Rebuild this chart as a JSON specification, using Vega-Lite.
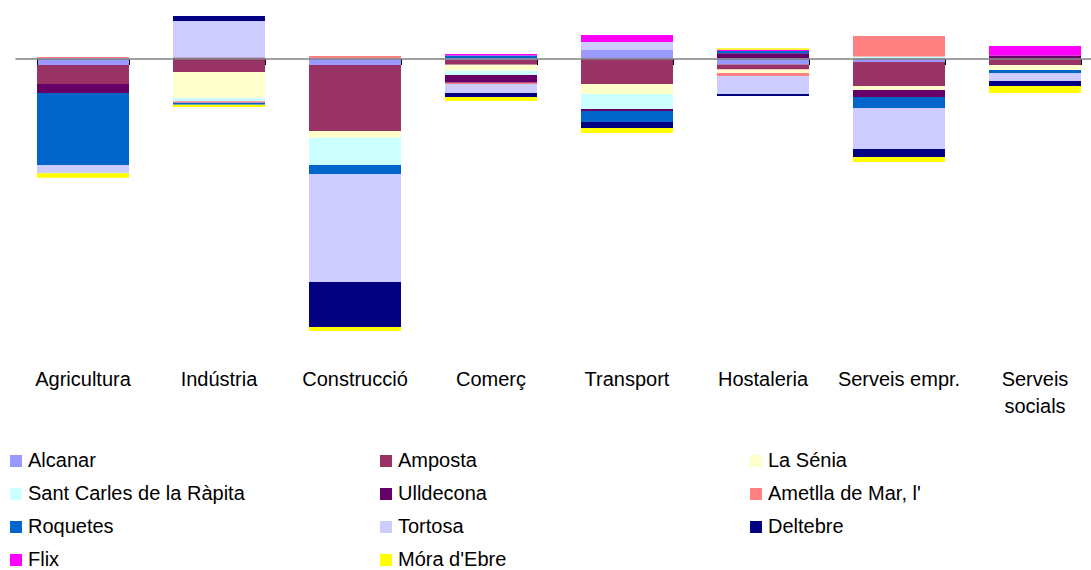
{
  "$schema": "https://vega.github.io/schema/vega-lite/v6.json",
  "width": 1076,
  "height": 355,
  "autosize": {"type": "none"},
  "padding": {"left": 15, "top": 10, "right": 0, "bottom": 205},
  "config": {
    "view": {"stroke": null},
    "font": "Liberation Sans"
  },
  "data": {
    "values": [
      {"cat": "Agricultura", "mun": "Ametlla de Mar, l'", "k": 5, "v": 1.5},
      {"cat": "Agricultura", "mun": "Alcanar", "k": 0, "v": -6.5},
      {"cat": "Agricultura", "mun": "Amposta", "k": 1, "v": -19},
      {"cat": "Agricultura", "mun": "Ulldecona", "k": 4, "v": -9},
      {"cat": "Agricultura", "mun": "Roquetes", "k": 6, "v": -72},
      {"cat": "Agricultura", "mun": "Tortosa", "k": 7, "v": -8.3},
      {"cat": "Agricultura", "mun": "Móra d'Ebre", "k": 10, "v": -4.4},

      {"cat": "Indústria", "mun": "Ulldecona", "k": 4, "v": 1},
      {"cat": "Indústria", "mun": "Tortosa", "k": 7, "v": 36.5},
      {"cat": "Indústria", "mun": "Deltebre", "k": 8, "v": 5},
      {"cat": "Indústria", "mun": "Amposta", "k": 1, "v": -13.5},
      {"cat": "Indústria", "mun": "La Sénia", "k": 2, "v": -25.7},
      {"cat": "Indústria", "mun": "Sant Carles de la Ràpita", "k": 3, "v": -3.6},
      {"cat": "Indústria", "mun": "Ametlla de Mar, l'", "k": 5, "v": -1.4},
      {"cat": "Indústria", "mun": "Roquetes", "k": 6, "v": -2},
      {"cat": "Indústria", "mun": "Móra d'Ebre", "k": 10, "v": -2.3},

      {"cat": "Construcció", "mun": "Ametlla de Mar, l'", "k": 5, "v": 2.5},
      {"cat": "Construcció", "mun": "Alcanar", "k": 0, "v": -6.5},
      {"cat": "Construcció", "mun": "Amposta", "k": 1, "v": -66},
      {"cat": "Construcció", "mun": "La Sénia", "k": 2, "v": -6.7},
      {"cat": "Construcció", "mun": "Sant Carles de la Ràpita", "k": 3, "v": -27.3},
      {"cat": "Construcció", "mun": "Roquetes", "k": 6, "v": -9},
      {"cat": "Construcció", "mun": "Tortosa", "k": 7, "v": -108},
      {"cat": "Construcció", "mun": "Deltebre", "k": 8, "v": -45},
      {"cat": "Construcció", "mun": "Móra d'Ebre", "k": 10, "v": -4},

      {"cat": "Comerç", "mun": "Roquetes", "k": 6, "v": 3},
      {"cat": "Comerç", "mun": "Flix", "k": 9, "v": 1.5},
      {"cat": "Comerç", "mun": "Alcanar", "k": 0, "v": -1.5},
      {"cat": "Comerç", "mun": "Amposta", "k": 1, "v": -4.7},
      {"cat": "Comerç", "mun": "La Sénia", "k": 2, "v": -6},
      {"cat": "Comerç", "mun": "Sant Carles de la Ràpita", "k": 3, "v": -4.3},
      {"cat": "Comerç", "mun": "Ulldecona", "k": 4, "v": -7.7},
      {"cat": "Comerç", "mun": "Ametlla de Mar, l'", "k": 5, "v": -1.3},
      {"cat": "Comerç", "mun": "Tortosa", "k": 7, "v": -9},
      {"cat": "Comerç", "mun": "Deltebre", "k": 8, "v": -4},
      {"cat": "Comerç", "mun": "Móra d'Ebre", "k": 10, "v": -4},

      {"cat": "Transport", "mun": "Alcanar", "k": 0, "v": 8.5},
      {"cat": "Transport", "mun": "Tortosa", "k": 7, "v": 8},
      {"cat": "Transport", "mun": "Flix", "k": 9, "v": 7},
      {"cat": "Transport", "mun": "Amposta", "k": 1, "v": -25.5},
      {"cat": "Transport", "mun": "La Sénia", "k": 2, "v": -10},
      {"cat": "Transport", "mun": "Sant Carles de la Ràpita", "k": 3, "v": -15},
      {"cat": "Transport", "mun": "Ulldecona", "k": 4, "v": -2},
      {"cat": "Transport", "mun": "Roquetes", "k": 6, "v": -11},
      {"cat": "Transport", "mun": "Deltebre", "k": 8, "v": -6},
      {"cat": "Transport", "mun": "Móra d'Ebre", "k": 10, "v": -5},

      {"cat": "Hostaleria", "mun": "Ulldecona", "k": 4, "v": 5.2},
      {"cat": "Hostaleria", "mun": "Roquetes", "k": 6, "v": 2.3},
      {"cat": "Hostaleria", "mun": "Flix", "k": 9, "v": 1.3},
      {"cat": "Hostaleria", "mun": "Móra d'Ebre", "k": 10, "v": 1.5},
      {"cat": "Hostaleria", "mun": "Alcanar", "k": 0, "v": -6},
      {"cat": "Hostaleria", "mun": "Amposta", "k": 1, "v": -5},
      {"cat": "Hostaleria", "mun": "La Sénia", "k": 2, "v": -3.5},
      {"cat": "Hostaleria", "mun": "Ametlla de Mar, l'", "k": 5, "v": -3},
      {"cat": "Hostaleria", "mun": "Tortosa", "k": 7, "v": -18},
      {"cat": "Hostaleria", "mun": "Deltebre", "k": 8, "v": -2},

      {"cat": "Serveis empr.", "mun": "Sant Carles de la Ràpita", "k": 3, "v": 2},
      {"cat": "Serveis empr.", "mun": "Ametlla de Mar, l'", "k": 5, "v": 20.5},
      {"cat": "Serveis empr.", "mun": "Alcanar", "k": 0, "v": -3.5},
      {"cat": "Serveis empr.", "mun": "Amposta", "k": 1, "v": -24},
      {"cat": "Serveis empr.", "mun": "La Sénia", "k": 2, "v": -4},
      {"cat": "Serveis empr.", "mun": "Ulldecona", "k": 4, "v": -7},
      {"cat": "Serveis empr.", "mun": "Roquetes", "k": 6, "v": -11},
      {"cat": "Serveis empr.", "mun": "Tortosa", "k": 7, "v": -41},
      {"cat": "Serveis empr.", "mun": "Deltebre", "k": 8, "v": -8},
      {"cat": "Serveis empr.", "mun": "Móra d'Ebre", "k": 10, "v": -5},

      {"cat": "Serveis socials", "mun": "Ulldecona", "k": 4, "v": 3},
      {"cat": "Serveis socials", "mun": "Flix", "k": 9, "v": 9.5},
      {"cat": "Serveis socials", "mun": "Amposta", "k": 1, "v": -6.5},
      {"cat": "Serveis socials", "mun": "La Sénia", "k": 2, "v": -5},
      {"cat": "Serveis socials", "mun": "Roquetes", "k": 6, "v": -3},
      {"cat": "Serveis socials", "mun": "Tortosa", "k": 7, "v": -8},
      {"cat": "Serveis socials", "mun": "Deltebre", "k": 8, "v": -5},
      {"cat": "Serveis socials", "mun": "Móra d'Ebre", "k": 10, "v": -7}
    ]
  },
  "layer": [
    {
      "mark": {"type": "bar"},
      "encoding": {
        "x": {
          "field": "cat", "type": "nominal",
          "sort": ["Agricultura", "Indústria", "Construcció", "Comerç", "Transport", "Hostaleria", "Serveis empr.", "Serveis socials"],
          "scale": {"range": [0, 1088], "paddingInner": 0.3235, "paddingOuter": 0.16175},
          "axis": {
            "title": null, "domain": false, "ticks": false, "labelAngle": 0,
            "labelFontSize": 20, "labelColor": "#000000", "labelPadding": 4,
            "labelLineHeight": 27, "labelFont": "Liberation Sans",
            "labelExpr": "datum.label == 'Serveis socials' ? ['Serveis', 'socials'] : datum.label"
          }
        },
        "y": {
          "field": "v", "type": "quantitative", "stack": "zero",
          "scale": {"domain": [-306.5, 48.5], "nice": false, "zero": false},
          "axis": null
        },
        "order": {"field": "k", "type": "quantitative", "sort": "ascending"},
        "color": {
          "field": "mun", "type": "nominal",
          "scale": {
            "domain": ["Alcanar", "Sant Carles de la Ràpita", "Roquetes", "Flix", "Amposta", "Ulldecona", "Tortosa", "Móra d'Ebre", "La Sénia", "Ametlla de Mar, l'", "Deltebre"],
            "range": ["#9999FF", "#CCFFFF", "#0066CC", "#FF00FF", "#993366", "#660066", "#CCCCFF", "#FFFF00", "#FFFFCC", "#FF8080", "#000080"]
          },
          "legend": {
            "title": null, "orient": "none", "legendX": -9, "legendY": 441,
            "columns": 3, "gridAlign": "all", "columnPadding": 131, "rowPadding": 13,
            "symbolType": "square", "symbolSize": 144, "symbolStrokeWidth": 0, "symbolOpacity": 1,
            "labelFontSize": 20, "labelFont": "Liberation Sans", "labelColor": "#000000",
            "labelOffset": 2, "labelLimit": 400, "padding": 0
          }
        }
      }
    },
    {
      "mark": {"type": "point", "opacity": 0},
      "encoding": {
        "x": {
          "field": "cat", "type": "nominal",
          "sort": ["Agricultura", "Indústria", "Construcció", "Comerç", "Transport", "Hostaleria", "Serveis empr.", "Serveis socials"],
          "axis": {
            "orient": "bottom",
            "title": null, "labels": false, "domain": true, "domainColor": "#808080", "domainWidth": 1.5,
            "ticks": true, "tickColor": "#000000", "tickSize": 6, "tickWidth": 1, "tickBand": "extent",
            "offset": -306.5, "zindex": 1
          }
        },
        "y": {"datum": 0, "type": "quantitative", "axis": null}
      }
    }
  ],
  "resolve": {"axis": {"x": "independent"}}
}
